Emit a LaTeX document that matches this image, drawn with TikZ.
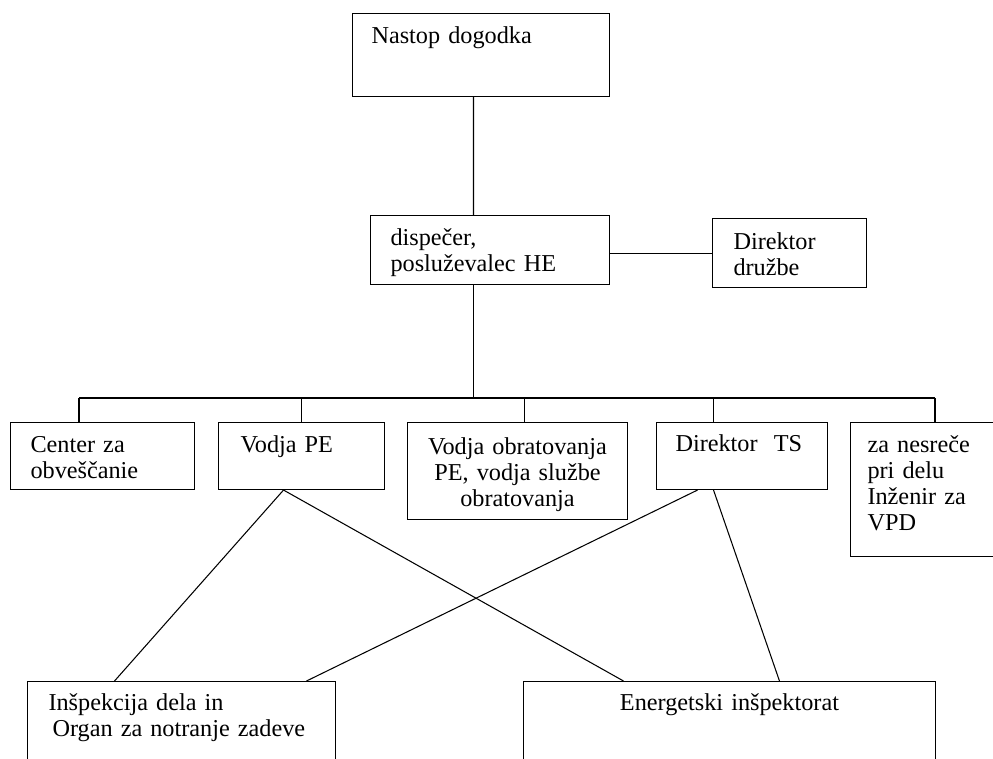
\documentclass[tikz,border=0pt]{standalone}
\usepackage{fontspec}
\setmainfont{Liberation Serif}

\begin{document}
\begin{tikzpicture}[x=0.02cm, y=-0.02cm, line width=0.6pt,
    box/.style={draw, anchor=north west, align=left, inner ysep=0pt,
        inner xsep=0.4cm, text height=0.6cm,
        font=\fontsize{13.8}{14.8}\selectfont}]

\useasboundingbox (0,0) rectangle (993,758);

\node[box, inner xsep=0.38cm, text width=4.38cm, text depth=1.06cm] (nastop) at (352,13) {Nastop dogodka};

\node[box, text width=3.98cm, text depth=0.78cm] (disp) at (370,215)
    {dispečer,\\posluževalec HE};

\node[box, inner xsep=0.42cm, text width=2.24cm, text height=0.62cm, text depth=0.76cm] (druzbe) at (712,218)
    {Direktor\\družbe};

\node[box, text width=2.88cm, text depth=0.74cm] (center) at (10,422)
    {Center za\\obveščanie};

\node[box, inner xsep=0.44cm, text width=2.44cm, text depth=0.74cm] (vodjape) at (218,422) {Vodja PE};

\node[box, align=center, inner xsep=0.2cm, text width=4cm, text height=0.64cm, text depth=1.3cm] (obrat) at (407,422)
    {Vodja obratovanja\\PE, vodja službe\\obratovanja};

\node[box, inner xsep=0.38cm, text width=2.66cm, text height=0.58cm, text depth=0.76cm] (dirts) at (656,422) {Direktor\ \ TS};

\node[box, inner xsep=0.34cm, text width=2.32cm, text depth=2.08cm] (nesrece) at (850,422)
    {za nesreče\\pri delu\\Inženir za\\VPD};

\node[box, inner xsep=0.42cm, text width=5.32cm, text height=0.58cm, text depth=1.3cm] (insp) at (27,681)
    {Inšpekcija dela in\\\hspace*{0.08cm}Organ za notranje zadeve};

\node[box, align=center, inner xsep=0.2cm, text width=7.84cm, text height=0.58cm, text depth=1.3cm] (energ) at (523,681)
    {Energetski inšpektorat};

% vertical line and side branch
\draw ([xshift=-0.15cm]nastop.south) -- ([xshift=-0.33cm]disp.north);
\draw (disp.east |- druzbe.west) -- (druzbe.west);

% bus
\coordinate (busL) at (79,398);
\coordinate (busR) at (935,398);
\draw ([xshift=-0.33cm]disp.south) -- ++(0,114);
\draw (busL) -- (busR);

\coordinate (obrat-in) at ([xshift=0.14cm]obrat.north);
\coordinate (ts-in) at ([xshift=-0.57cm]dirts.north);
\draw (busL) -- (busL |- center.north);
\draw (vodjape.north) -- (vodjape.north |- busL);
\draw (obrat-in) -- (obrat-in |- busL);
\draw (ts-in) -- (ts-in |- busL);
\draw (busR) -- (busR |- nesrece.north);

% crossing lines
\coordinate (pe-out) at ([xshift=-0.36cm]vodjape.south);
\coordinate (ts-outL) at ([xshift=-0.89cm]dirts.south);
\coordinate (ts-outR) at ([xshift=-0.57cm]dirts.south);
\draw (pe-out) -- ([xshift=-1.34cm]insp.north);
\draw (pe-out) -- ([xshift=-2.12cm]energ.north);
\draw (ts-outL) -- ([xshift=2.5cm]insp.north);
\draw (ts-outR) -- ([xshift=1cm]energ.north);

\end{tikzpicture}
\end{document}
